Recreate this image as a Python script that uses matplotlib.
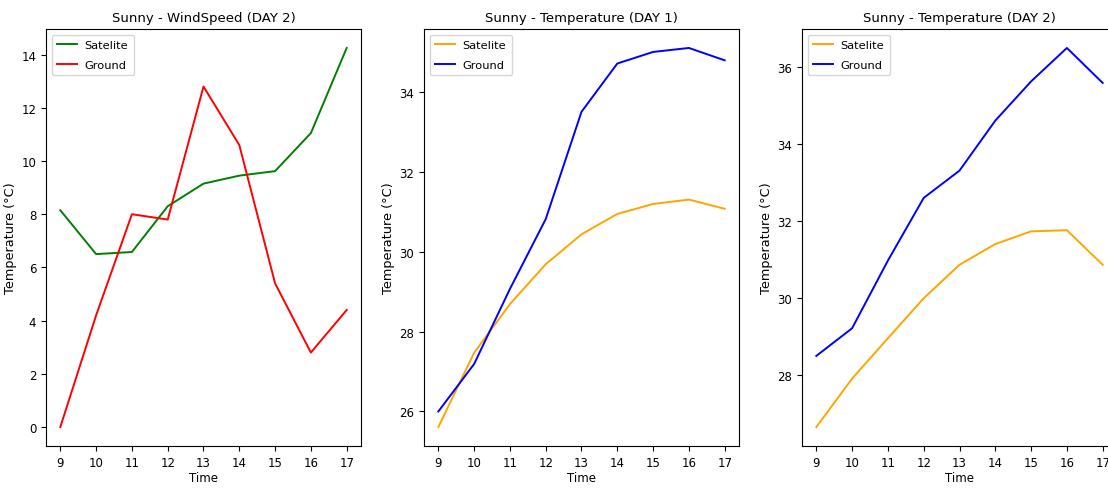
import matplotlib
matplotlib.use("Agg")
import matplotlib.pyplot as plt

hours = [9, 10, 11, 12, 13, 14, 15, 16, 17]

wind_sat_d2 = [8.15, 6.5, 6.58, 8.3, 9.15, 9.45, 9.62, 11.05, 14.25]
wind_gnd_d2 = [0.0, 4.2, 8.0, 7.8, 12.8, 10.6, 5.4, 2.8, 4.4]

temp_sat_d1 = [25.61, 27.47, 28.69, 29.69, 30.44, 30.95, 31.2, 31.31, 31.08]
temp_gnd_d1 = [26.0, 27.19, 29.07, 30.82, 33.51, 34.72, 35.01, 35.11, 34.80]

temp_sat_d2 = [26.64, 27.9, 28.95, 29.99, 30.86, 31.4, 31.73, 31.76, 30.86]
temp_gnd_d2 = [28.49, 29.21, 30.97, 32.6, 33.31, 34.61, 35.63, 36.5, 35.59]

titles = ["Sunny - WindSpeed (DAY 2)", "Sunny - Temperature (DAY 1)", "Sunny - Temperature (DAY 2)"]
series = [
    (wind_sat_d2, wind_gnd_d2, "green", "red"),
    (temp_sat_d1, temp_gnd_d1, "orange", "blue"),
    (temp_sat_d2, temp_gnd_d2, "orange", "blue"),
]

fig = plt.figure(figsize=(11.08, 4.89), dpi=100)
lefts = [46 / 1108, 424 / 1108, 802 / 1108]
w = 315 / 1108
b = 1 - 447 / 489
h = (447 - 30) / 489

for left, title, (sat, gnd, c1, c2) in zip(lefts, titles, series):
    ax = fig.add_axes([left, b, w, h])
    ax.plot(hours, sat, color=c1, lw=1.4, label="Satelite")
    ax.plot(hours, gnd, color=c2, lw=1.4, label="Ground")
    ax.set_title(title, fontsize=9.5)
    ax.set_xlabel("Time", fontsize=8.5, labelpad=2)
    ax.set_ylabel("Temperature (°C)", fontsize=9.3, labelpad=3)
    ax.set_xticks(hours)
    ax.tick_params(labelsize=8.5)
    ax.legend(loc="upper left", fontsize=8.2, labelspacing=0.8,
              handlelength=1.7, handletextpad=0.7, borderpad=0.5)

fig.savefig("out.png", dpi=100)
